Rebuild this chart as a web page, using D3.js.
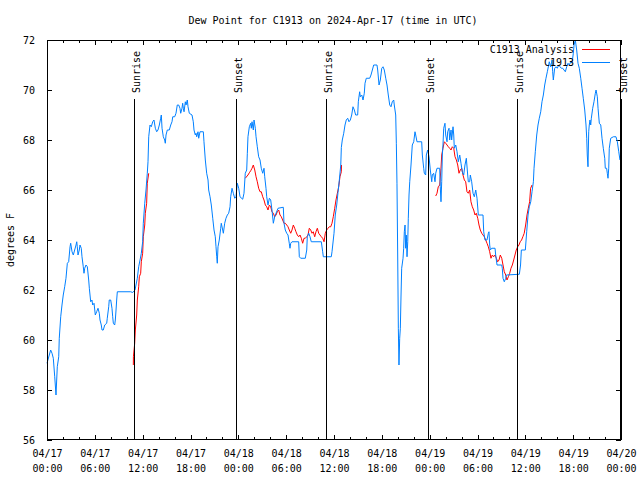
<!DOCTYPE html>
<html>
<head>
<meta charset="utf-8">
<script src="https://cdn.jsdelivr.net/npm/d3@7/dist/d3.min.js"></script>
<style>
html,body{margin:0;padding:0;background:#fff;}
svg{display:block;}
text{font-family:"DejaVu Sans Mono","Liberation Mono",monospace;font-size:10px;fill:#000;}
</style>
</head>
<body>
<svg id="chart" width="640" height="480"></svg>
<script>
// ---------- data (hours since 2024-04-17 00:00 UTC, degrees F) ----------
const titleText = "Dew Point for C1913 on 2024-Apr-17 (time in UTC)";
const yLabel = "degrees F";
const seriesNames = ["C1913 Analysis", "C1913"];
const xTickHours = [0, 6, 12, 18, 24, 30, 36, 42, 48, 54, 60, 66, 72];
const xTickDates = ["04/17","04/17","04/17","04/17","04/18","04/18","04/18","04/18","04/19","04/19","04/19","04/19","04/20"];
const xTickTimes = ["00:00","06:00","12:00","18:00","00:00","06:00","12:00","18:00","00:00","06:00","12:00","18:00","00:00"];
const yTicks = [56, 58, 60, 62, 64, 66, 68, 70, 72];
const sunEvents = [["Sunrise",10.93],["Sunset",23.75],["Sunrise",35.04],["Sunset",47.83],["Sunrise",58.99],["Sunset",71.97]];

const stationSeries = [
[0,59.07],[0.46,59.6],[0.63,59.47],[0.79,59.27],[0.97,58.53],[1.13,57.8],[1.29,58.93],[1.47,59.33],[1.54,60.07],[1.72,60.93],
[1.88,61.4],[2.04,61.8],[2.22,62.13],[2.38,62.47],[2.55,63.07],[2.72,63.13],[2.89,63.73],[2.97,63.87],[3.14,63.53],[3.3,63.4],
[3.47,63.6],[3.64,63.8],[3.73,63.93],[3.8,63.73],[3.89,63.4],[4.05,63.6],[4.14,63.8],[4.3,63.67],[4.39,63.33],[4.55,62.93],
[4.64,62.67],[4.73,62.87],[4.89,63.0],[5.06,62.93],[5.23,62.4],[5.31,62.07],[5.48,61.53],[5.64,61.6],[5.73,61.4],[5.9,61.47],
[6.06,61.0],[6.23,61.13],[6.4,61.27],[6.56,61.07],[6.65,60.8],[6.81,60.6],[6.9,60.4],[7.06,60.4],[7.24,60.6],[7.49,60.67],
[7.56,60.87],[7.74,61.33],[7.81,61.6],[7.99,61.6],[8.15,61.27],[8.24,60.93],[8.32,60.67],[8.49,60.6],[8.57,60.8],[8.66,61.2],
[8.74,61.6],[8.82,61.93],[10.5,61.93],[10.75,61.9],[11.04,62.0],[11.33,62.47],[11.5,62.93],[11.67,63.2],[11.83,63.47],[12.0,63.93],
[12.08,64.67],[12.26,65.47],[12.42,66.0],[12.58,66.67],[12.67,67.13],[12.76,68.13],[12.92,68.6],[13.08,68.53],[13.26,68.73],[13.42,68.8],
[13.59,68.47],[13.76,68.33],[13.92,68.4],[14.09,68.6],[14.26,68.87],[14.34,69.0],[14.43,68.47],[14.59,68.13],[14.76,68.0],[14.84,67.87],
[14.93,68.2],[15.09,68.4],[15.34,68.4],[15.52,68.6],[15.68,68.73],[15.77,68.93],[16.02,68.93],[16.18,69.07],[16.34,69.4],[16.52,69.4],
[16.68,69.27],[16.77,69.07],[16.93,69.27],[17.02,69.47],[17.1,69.27],[17.19,69.13],[17.35,69.53],[17.44,69.4],[17.6,69.6],[17.69,69.33],
[17.85,69.07],[18.19,69.0],[18.35,68.73],[18.44,68.4],[18.6,68.2],[18.69,68.27],[18.78,68.13],[18.94,68.33],[19.03,68.07],[19.19,68.33],
[19.61,68.33],[19.69,67.93],[19.86,67.2],[20.03,66.67],[20.2,66.4],[20.28,66.0],[20.45,65.73],[20.61,65.4],[20.79,64.87],[20.95,64.4],
[21.11,64.13],[21.2,63.73],[21.29,63.33],[21.36,63.07],[21.45,63.73],[21.61,64.0],[21.79,64.47],[21.86,64.67],[22.04,64.4],[22.12,64.27],
[22.29,64.67],[22.45,64.87],[22.62,65.0],[22.79,65.07],[22.96,65.33],[23.04,65.73],[23.21,66.07],[23.37,65.87],[23.55,65.67],[23.71,65.73],
[23.87,66.27],[24.05,66.07],[24.21,65.73],[24.55,65.63],[24.71,65.87],[24.87,66.67],[25.05,66.8],[25.13,67.47],[25.21,68.13],[25.38,68.53],
[25.55,68.67],[25.63,68.47],[25.72,68.73],[25.88,68.4],[25.97,68.8],[26.13,68.47],[26.22,68.13],[26.38,67.73],[26.55,67.33],[26.72,67.2],
[26.88,66.87],[27.06,66.67],[27.22,66.87],[27.31,66.53],[27.47,66.07],[27.56,65.73],[27.72,65.4],[27.89,65.67],[28.06,65.6],[28.22,65.2],
[28.39,64.67],[28.56,64.93],[28.73,65.07],[28.98,65.27],[29.64,65.31],[29.73,64.67],[29.89,64.4],[30.07,64.27],[30.23,64.2],[30.39,63.87],
[30.48,63.67],[30.57,63.87],[30.73,63.93],[31.57,63.93],[31.65,63.33],[31.82,63.27],[32.4,63.27],[32.58,63.6],[32.65,64.13],[32.83,64.27],
[32.99,64.13],[33.15,63.93],[34.41,63.93],[34.58,63.53],[34.66,63.33],[35.66,63.33],[35.75,63.53],[36.0,64.27],[36.16,65.0],[36.34,65.4],
[36.5,65.9],[36.67,66.4],[36.85,67.0],[36.92,67.7],[37.04,68.0],[37.22,68.27],[37.38,68.6],[37.54,68.8],[37.72,68.87],[37.88,68.73],
[38.05,68.8],[38.22,69.0],[38.38,69.33],[38.55,69.2],[38.72,69.0],[38.97,69.0],[39.05,69.53],[39.22,69.93],[39.3,69.73],[39.48,69.8],
[39.64,69.6],[39.8,69.87],[39.89,70.27],[40.05,70.47],[40.48,70.47],[40.64,70.6],[40.81,70.8],[40.98,71.0],[41.39,71.0],[41.48,70.8],
[41.65,70.2],[41.81,70.4],[41.99,70.87],[42.15,70.93],[42.31,70.8],[42.49,70.47],[42.65,70.2],[42.81,69.8],[42.99,69.4],[43.15,69.33],
[43.31,69.53],[43.49,69.6],[43.56,69.4],[43.74,69.0],[43.82,67.87],[43.9,66.27],[43.99,63.4],[44.07,60.47],[44.15,59.0],[44.24,60.07],
[44.32,60.47],[44.41,61.8],[44.49,62.87],[44.66,63.27],[44.74,63.67],[44.82,64.33],[44.91,64.6],[44.99,63.67],[45.07,64.2],[45.16,63.33],
[45.25,63.93],[45.32,64.87],[45.41,65.8],[45.5,66.33],[45.66,67.0],[45.82,67.8],[46.0,67.93],[46.16,68.33],[46.25,68.2],[46.41,67.93],
[47.0,67.93],[47.08,67.4],[47.25,66.87],[47.33,66.67],[47.5,66.6],[47.58,67.4],[47.75,67.6],[47.92,67.33],[48.08,66.8],[48.26,66.33],
[48.33,66.6],[48.5,66.67],[48.67,66.33],[48.76,66.67],[48.92,66.87],[49.26,66.87],[49.33,66.13],[49.42,65.53],[49.51,66.33],[49.59,67.4],
[49.67,67.8],[49.76,68.47],[49.92,68.67],[50.01,68.2],[50.18,67.93],[50.26,68.33],[50.43,68.47],[50.51,68.0],[50.68,68.4],[50.76,68.0],
[50.93,68.53],[51.02,68.2],[51.09,67.67],[51.27,67.8],[51.43,67.53],[51.59,67.13],[51.77,67.4],[51.93,67.07],[52.09,66.73],[52.27,66.6],
[52.43,67.0],[52.6,67.27],[52.77,66.6],[52.85,66.33],[53.02,66.33],[53.1,66.6],[53.27,66.33],[53.44,65.87],[53.6,65.73],[53.78,66.0],
[53.94,65.67],[54.1,65.0],[54.69,65.0],[54.78,64.33],[54.94,64.0],[55.19,64.0],[55.36,64.27],[55.44,64.33],[55.53,63.8],[55.61,63.6],
[55.78,63.67],[56.2,63.67],[56.28,63.4],[56.45,63.0],[57.04,63.0],[57.11,62.87],[57.2,62.47],[57.36,62.33],[57.54,62.47],[57.62,62.6],
[59.25,62.63],[59.4,63.0],[59.5,63.6],[60.0,63.6],[60.17,64.33],[60.34,65.0],[60.5,65.33],[60.68,65.53],[60.84,65.93],[61.01,66.33],
[61.09,66.87],[61.25,67.53],[61.43,68.2],[61.59,68.6],[61.75,68.87],[61.93,69.13],[62.09,69.53],[62.26,69.8],[62.43,70.2],[62.59,70.47],
[62.76,70.73],[62.93,71.0],[63.0,71.13],[63.18,70.93],[63.35,71.2],[63.43,70.73],[63.51,70.4],[63.68,70.87],[63.85,70.93],[64.01,70.87],
[64.19,71.0],[64.35,70.93],[64.51,70.87],[64.69,70.87],[64.85,70.8],[65.02,70.73],[65.19,70.93],[65.35,71.07],[65.52,71.0],[65.69,71.13],
[65.86,71.07],[66.02,71.47],[66.11,71.8],[66.27,72.0],[66.44,71.6],[66.61,71.07],[66.77,70.87],[66.95,70.47],[67.11,70.07],[67.27,69.67],
[67.45,69.2],[67.61,68.6],[67.7,68.07],[67.77,67.4],[67.86,66.93],[67.95,68.33],[68.02,68.6],[68.11,68.8],[68.2,68.6],[68.28,68.87],
[68.45,69.27],[68.61,69.53],[68.78,69.87],[68.87,70.0],[69.03,69.73],[69.12,69.27],[69.28,68.67],[69.46,68.6],[69.62,68.07],[69.78,67.67],
[69.96,67.27],[70.03,66.87],[70.2,66.87],[70.28,66.67],[70.37,66.47],[70.46,66.87],[70.53,67.67],[70.71,68.07],[71.04,68.13],[71.37,68.13],
[71.54,67.93],[71.72,67.53],[71.87,67.2]
];

const analysisMorning1 = [
[10.83,59.0],[10.84,59.33],[11.0,59.87],[11.08,60.4],[11.25,61.0],[11.33,61.6],[11.5,62.13],[11.58,62.53],[11.75,62.67],[11.83,63.13],
[12.0,63.47],[12.08,64.13],[12.26,64.6],[12.33,65.07],[12.5,65.47],[12.58,66.27],[12.76,66.67]
];
const analysisNight2 = [
[24.87,66.47],[25.21,66.6],[25.38,66.69],[25.55,66.77],[25.72,66.87],[25.88,67.0],[26.06,66.8],[26.22,66.53],[26.38,66.33],[26.55,66.07],
[26.72,65.93],[26.88,65.93],[27.06,65.73],[27.22,65.6],[27.39,65.4],[27.56,65.33],[27.72,65.2],[27.89,65.4],[28.06,65.33],[28.22,65.13],
[28.39,65.07],[28.56,64.93],[28.73,65.0],[28.89,65.13],[29.06,65.2],[29.23,65.0],[29.39,64.93],[29.56,64.8],[29.73,64.67],[29.89,64.67],
[30.07,64.6],[30.23,64.53],[30.39,64.4],[30.57,64.27],[30.73,64.4],[30.9,64.6],[31.07,64.47],[31.23,64.33],[31.4,64.2],[31.57,64.13],
[31.74,64.2],[31.9,64.07],[32.07,63.87],[32.24,64.07],[32.4,64.07],[32.58,64.13],[32.74,64.2],[32.9,64.47],[33.08,64.4],[33.24,64.27],
[33.4,64.33],[33.58,64.13],[33.74,64.33],[33.91,64.47],[34.08,64.27],[34.24,64.2],[34.41,64.13],[34.58,64.07],[34.75,63.93],[34.91,64.27],
[35.08,64.4],[35.25,64.47],[35.41,64.53],[35.59,64.53],[35.75,64.67],[35.91,64.93],[36.09,65.27],[36.25,65.6],[36.42,65.87],[36.59,66.13],
[36.75,66.53],[36.92,66.73],[36.94,67.0]
];
const analysisNight3 = [
[48.76,65.76],[48.92,65.87],[49.08,66.13],[49.26,66.2],[49.42,66.87],[49.51,67.4],[49.67,67.67],[49.84,67.93],[50.01,67.87],[50.18,67.8],
[50.34,67.73],[50.51,67.67],[50.68,67.6],[50.84,67.73],[51.02,67.67],[51.18,67.33],[51.35,67.2],[51.52,67.0],[51.68,66.67],[51.84,66.8],
[52.02,66.87],[52.18,66.6],[52.35,66.4],[52.52,66.33],[52.68,65.93],[52.85,65.87],[53.02,66.0],[53.18,65.53],[53.35,65.33],[53.52,65.2],
[53.69,65.0],[53.85,65.07],[54.03,64.87],[54.19,64.6],[54.35,64.4],[54.53,64.27],[54.69,64.2],[54.85,64.13],[55.03,64.0],[55.19,63.87],
[55.36,63.73],[55.53,63.53],[55.69,63.27],[55.86,63.4],[56.03,63.33],[56.2,63.4],[56.36,63.27],[56.53,63.13],[56.7,63.2],[56.86,63.4],
[57.04,63.27],[57.2,63.0],[57.36,62.73],[57.54,62.6],[57.7,62.4],[57.87,62.53],[58.04,62.67],[58.2,62.87],[58.37,63.0],[58.54,63.2],
[58.7,63.4],[58.86,63.6],[59.04,63.73],[59.2,63.8],[59.36,63.93],[59.53,64.0],[59.69,64.13],[59.86,64.27],[60.04,64.6],[60.21,65.0],
[60.37,65.27],[60.54,65.53],[60.66,66.07],[60.84,66.2]
];

// ---------- layout ----------
const t0 = Date.UTC(2024, 3, 17, 0, 0, 0);
const toDate = h => new Date(t0 + h * 3600e3);
const padL = 47, padR = 621, padT = 40, padB = 440;
const svg = d3.select("#chart");

const x = d3.scaleUtc().domain([toDate(0), toDate(72)]).range([padL, padR]);
const y = d3.scaleLinear().domain([56, 72]).range([padB, padT]);

svg.append("rect").attr("width", 640).attr("height", 480).attr("fill", "#fff");

// title
svg.append("text").attr("x", 333).attr("y", 24).attr("text-anchor", "middle").text(titleText);

// y label
svg.append("text").attr("transform", "translate(14,240) rotate(-90)").attr("text-anchor", "middle").text(yLabel);

// axes
const minorHours = d3.range(0, 73, 2);
const gx = svg.append("g").attr("transform", `translate(0,${padB})`)
  .call(d3.axisBottom(x).tickValues(xTickHours.map(toDate)).tickSizeInner(-5).tickSizeOuter(0).tickPadding(16).tickFormat(() => ""));
gx.selectAll(".tick text").each(function(d, i) {
  const t = d3.select(this);
  t.append("tspan").attr("x", 0).attr("dy", "0.1em").text(xTickDates[i]);
  t.append("tspan").attr("x", 0).attr("dy", "1.5em").text(xTickTimes[i]);
});
svg.append("g").attr("transform", `translate(0,${padB})`)
  .call(d3.axisBottom(x).tickValues(minorHours.map(toDate)).tickSizeInner(-3).tickSizeOuter(0).tickFormat(() => ""));
svg.append("g").attr("transform", `translate(0,${padT})`)
  .call(d3.axisTop(x).tickValues(xTickHours.map(toDate)).tickSizeInner(-5).tickSizeOuter(0).tickFormat(() => ""));
svg.append("g").attr("transform", `translate(0,${padT})`)
  .call(d3.axisTop(x).tickValues(minorHours.map(toDate)).tickSizeInner(-3).tickSizeOuter(0).tickFormat(() => ""));
svg.append("g").attr("transform", `translate(${padL},0)`)
  .call(d3.axisLeft(y).tickValues(yTicks).tickSizeInner(-5).tickSizeOuter(0).tickPadding(12).tickFormat(d3.format("d")));
svg.append("g").attr("transform", `translate(${padR},0)`)
  .call(d3.axisRight(y).tickValues(yTicks).tickSizeInner(-5).tickSizeOuter(0).tickFormat(() => ""));

svg.selectAll(".domain").remove();
svg.selectAll(".tick line").attr("stroke", "#000").attr("shape-rendering", "crispEdges");
svg.selectAll(".tick text").attr("font-family", "DejaVu Sans Mono, Liberation Mono, monospace").attr("font-size", 10).attr("fill", "#000");

// series
const line = d3.line().x(d => x(toDate(d[0]))).y(d => y(d[1]));
[analysisMorning1, analysisNight2, analysisNight3].forEach(seg => {
  svg.append("path").datum(seg).attr("d", line).attr("fill", "none")
    .attr("stroke", "#ff0000").attr("stroke-width", 1);
});
svg.append("path").datum(stationSeries).attr("d", line).attr("fill", "none")
  .attr("stroke", "#0080ff").attr("stroke-width", 1);

// sun events
sunEvents.forEach(([name, h]) => {
  const sx = Math.round(x(toDate(h))) + 0.5;
  svg.append("line").attr("x1", sx).attr("x2", sx).attr("y1", 99).attr("y2", padB)
    .attr("stroke", "#000").attr("stroke-width", 1).attr("shape-rendering", "crispEdges");
  svg.append("text").attr("transform", `translate(${sx + 5},93) rotate(-90)`).text(name);
});

// frame
svg.append("rect").attr("x", padL + 0.5).attr("y", padT + 0.5).attr("width", padR - padL - 1).attr("height", padB - padT - 1)
  .attr("fill", "none").attr("stroke", "#000").attr("stroke-width", 1).attr("shape-rendering", "crispEdges");

// legend
const legendColors = ["#ff0000", "#0080ff"];
seriesNames.forEach((n, i) => {
  const ly = 49 + i * 13;
  svg.append("text").attr("x", 574).attr("y", ly + 4).attr("text-anchor", "end").text(n);
  svg.append("line").attr("x1", 582).attr("x2", 610).attr("y1", ly + 0.5).attr("y2", ly + 0.5)
    .attr("stroke", legendColors[i]).attr("stroke-width", 1);
});
</script>
</body>
</html>
